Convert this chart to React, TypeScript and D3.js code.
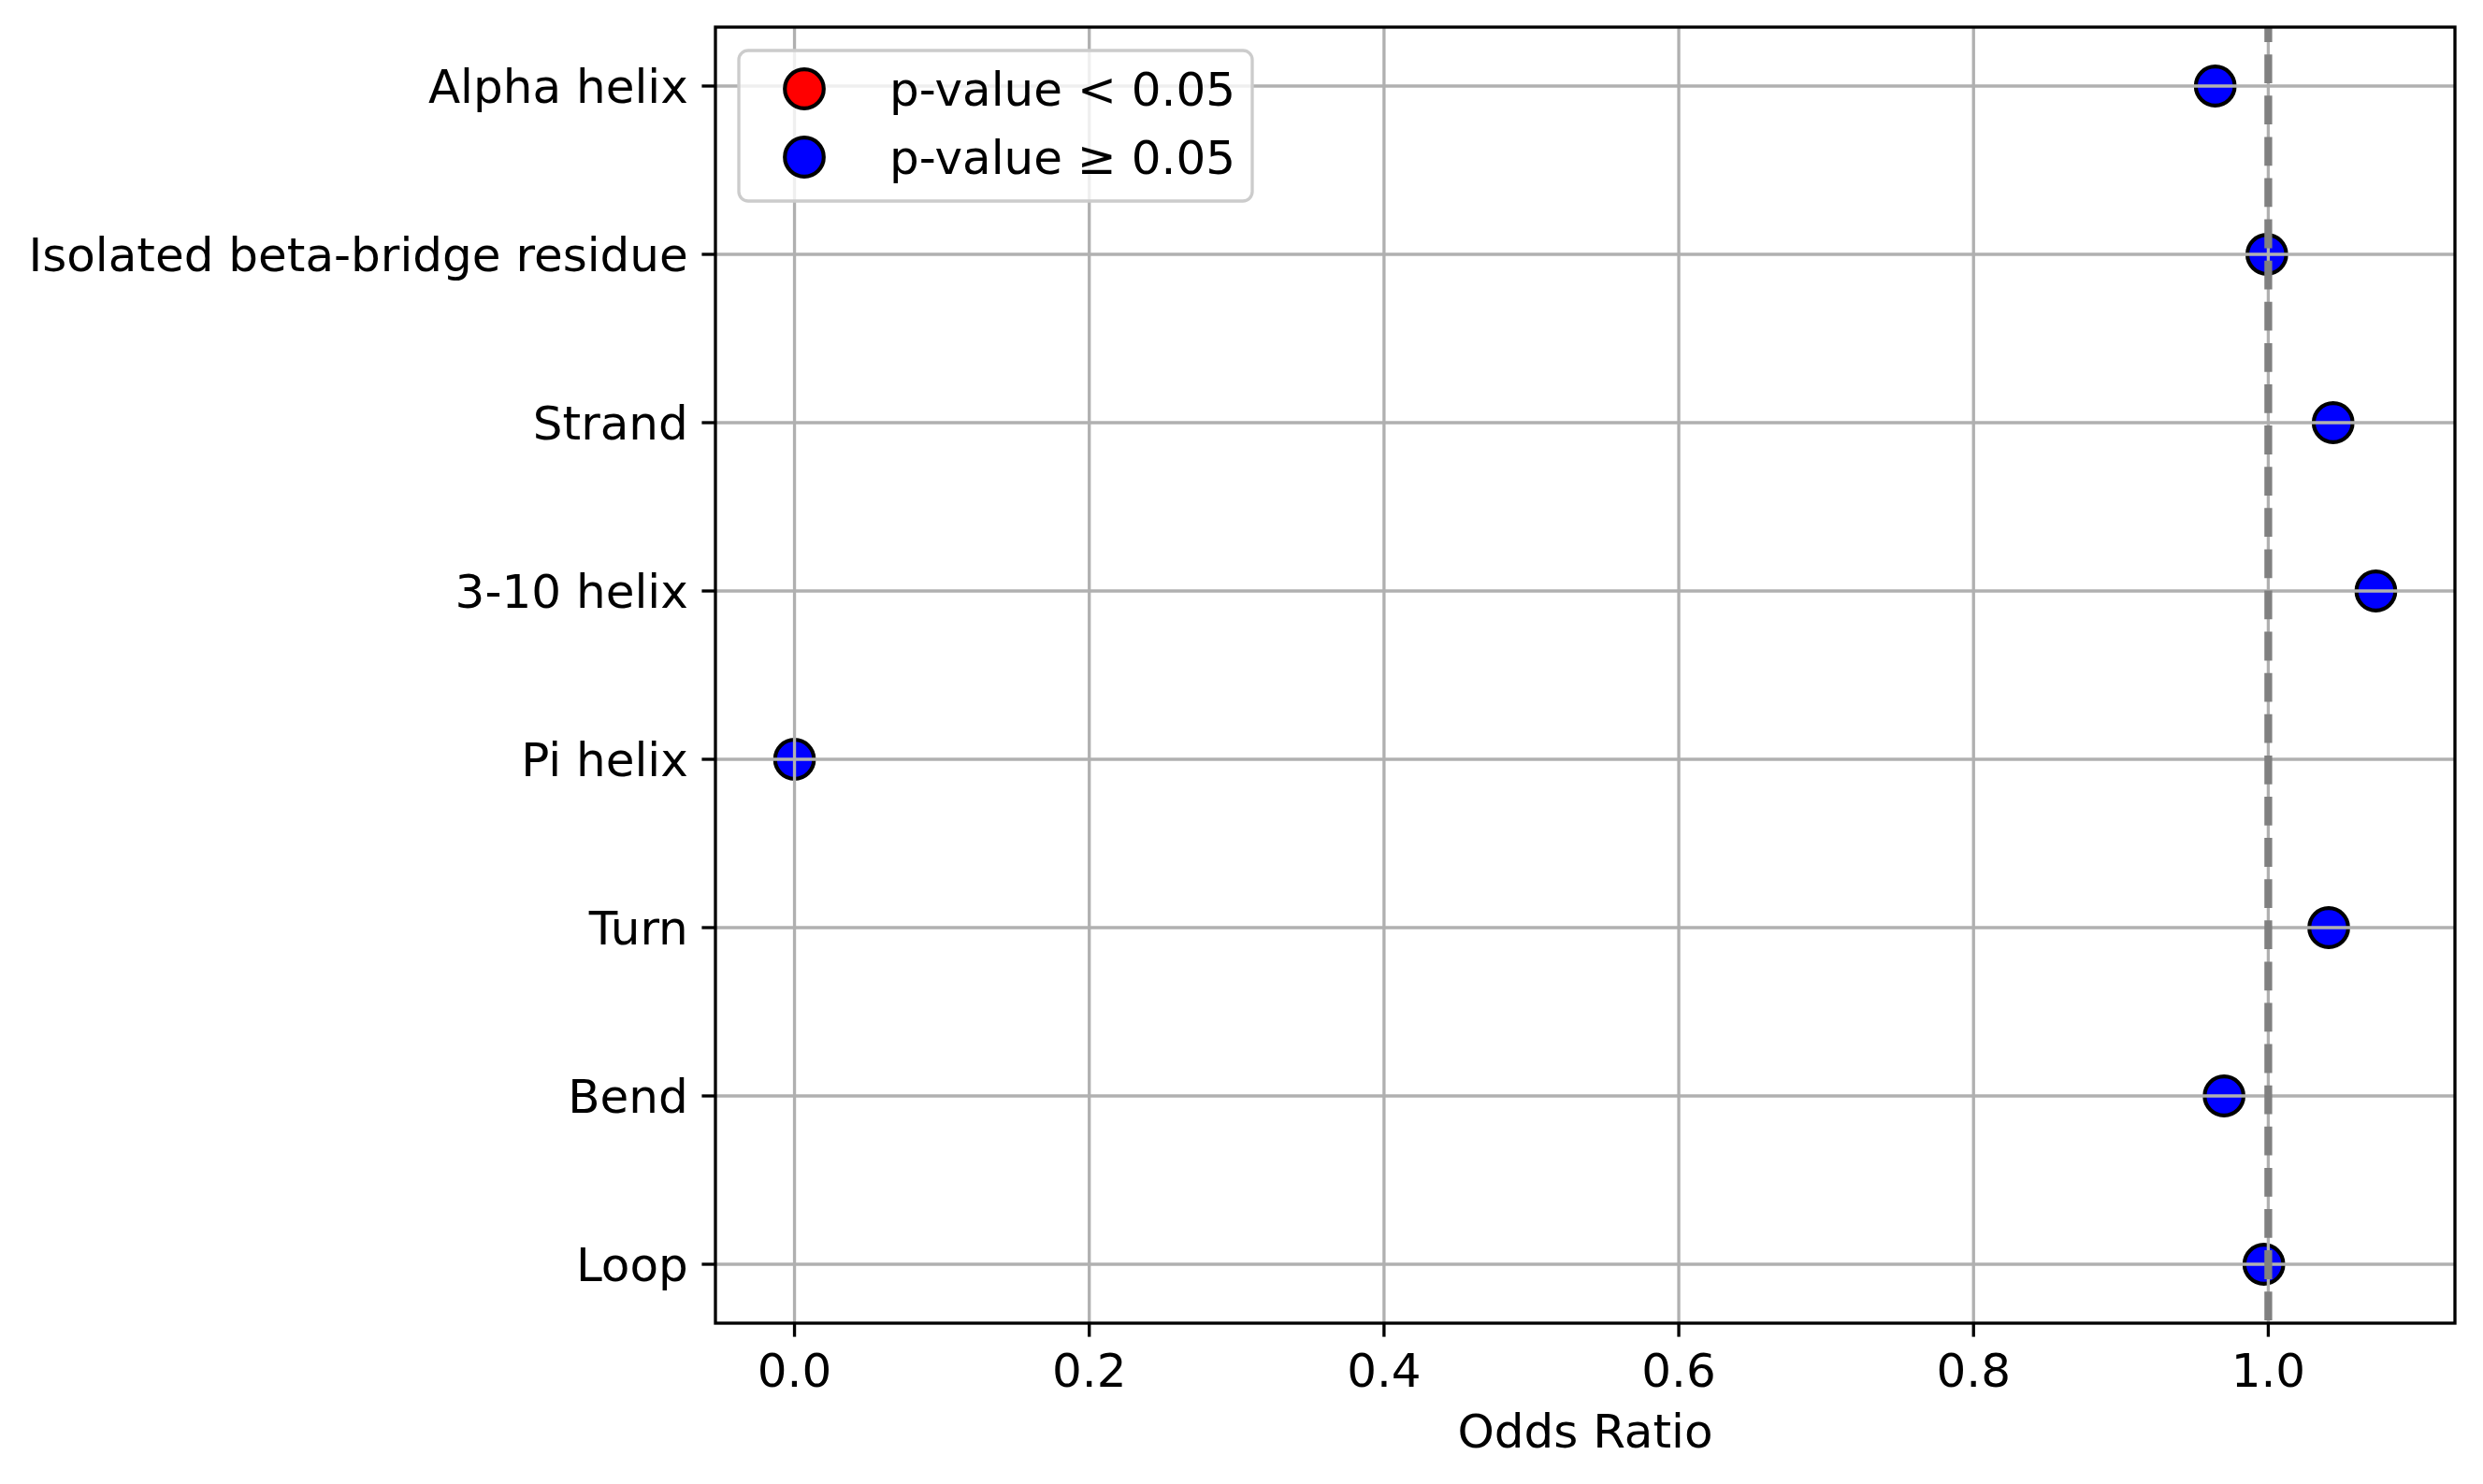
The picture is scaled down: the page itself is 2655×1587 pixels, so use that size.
import React from "react";
import * as d3 from "d3";

const categories = [
  "Alpha helix",
  "Isolated beta-bridge residue",
  "Strand",
  "3-10 helix",
  "Pi helix",
  "Turn",
  "Bend",
  "Loop",
];
const oddsRatios = [0.964, 0.999, 1.044, 1.073, 0.0, 1.041, 0.97, 0.997];
const significant = [false, false, false, false, false, false, false, false];
const xTicks = [0.0, 0.2, 0.4, 0.6, 0.8, 1.0];
const legendLabels = ["p-value < 0.05", "p-value \u2265 0.05"];
const legendColors = ["#ff0000", "#0000ff"];

const W = 2655;
const H = 1587;
const L = 765;
const R = 2625;
const T = 29;
const B = 1415;
const FONT = "'DejaVu Sans', sans-serif";
const FS = 50;
const LW = 3.33;

export default function App() {
  const [mn, mx] = d3.extent(oddsRatios) as [number, number];
  const pad = (mx - mn) * 0.05;
  const x = d3.scaleLinear().domain([mn - pad, mx + pad]).range([L, R]);
  const y = d3.scalePoint<string>().domain(categories).range([T, B]).padding(0.35);
  const r = 20.8;

  return (
    <svg
      width={W}
      height={H}
      style={{ position: "absolute", left: 0, top: 0, background: "#fff" }}
      fontFamily={FONT}
    >
      <rect x={0} y={0} width={W} height={H} fill="#fff" />
      <defs>
        <clipPath id="axclip">
          <rect x={L} y={T} width={R - L} height={B - T} />
        </clipPath>
      </defs>
      {/* points */}
      <g clipPath="url(#axclip)">
        {categories.map((c, i) => (
          <circle
            key={c}
            cx={x(oddsRatios[i])}
            cy={y(c)!}
            r={r}
            fill={significant[i] ? "#ff0000" : "#0000ff"}
            stroke="#000"
            strokeWidth={4.17}
          />
        ))}
      </g>
      {/* grid */}
      <g stroke="#b0b0b0" strokeWidth={LW}>
        {xTicks.map((t) => (
          <line key={t} x1={x(t)} x2={x(t)} y1={T} y2={B} />
        ))}
        {categories.map((c) => (
          <line key={c} x1={L} x2={R} y1={y(c)!} y2={y(c)!} />
        ))}
      </g>
      {/* reference line */}
      <line
        x1={x(1)}
        x2={x(1)}
        y1={B - 3}
        y2={T}
        stroke="#808080"
        strokeWidth={8.33}
        strokeDasharray="30.8,13.3"
      />
      {/* spines */}
      <rect x={L} y={T} width={R - L} height={B - T} fill="none" stroke="#000" strokeWidth={LW} />
      {/* x ticks */}
      <g>
        {xTicks.map((t) => (
          <g key={t}>
            <line x1={x(t)} x2={x(t)} y1={B} y2={B + 14.6} stroke="#000" strokeWidth={LW} />
            <text x={x(t)} y={1483} textAnchor="middle" fontSize={FS} fill="#000">
              {t.toFixed(1)}
            </text>
          </g>
        ))}
      </g>
      <text x={(L + R) / 2} y={1548} textAnchor="middle" fontSize={FS} fill="#000">
        Odds Ratio
      </text>
      {/* y ticks */}
      <g>
        {categories.map((c) => (
          <g key={c}>
            <line x1={L - 14.6} x2={L} y1={y(c)!} y2={y(c)!} stroke="#000" strokeWidth={LW} />
            <text
              x={L - 29.2}
              y={y(c)!}
              dy="0.36em"
              textAnchor="end"
              fontSize={FS}
              fill="#000"
            >
              {c}
            </text>
          </g>
        ))}
      </g>
      {/* legend */}
      <g>
        <rect
          x={790}
          y={54}
          width={549}
          height={161}
          rx={10}
          ry={10}
          fill="#fff"
          fillOpacity={0.8}
          stroke="#cccccc"
          strokeWidth={LW}
        />
        {legendLabels.map((lab, i) => (
          <g key={lab}>
            <circle
              cx={860}
              cy={95 + i * 73}
              r={r}
              fill={legendColors[i]}
              stroke="#000"
              strokeWidth={4.17}
            />
            <text x={951} y={95 + i * 73} dy="0.36em" fontSize={FS} fill="#000">
              {lab}
            </text>
          </g>
        ))}
      </g>
    </svg>
  );
}
